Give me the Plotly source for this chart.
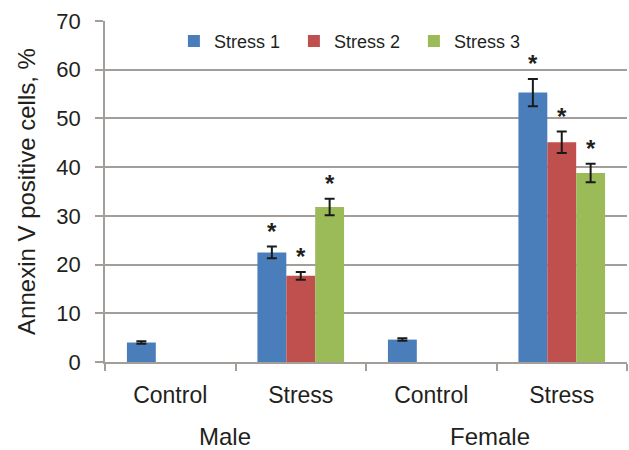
import plotly.graph_objects as go

# Groups on the category axis and the sex they belong to
categories = ["Male Control", "Male Stress", "Female Control", "Female Stress"]
category_labels = ["Control", "Stress", "Control", "Stress"]
sexes = ["Male", "Female"]
sex_positions = [0.42, 2.45]  # category-index positions of the sex labels

series_names = ["Stress 1", "Stress 2", "Stress 3"]
series_colors = ["#4A7EBB", "#C0504D", "#9BBB59"]

# Annexin V positive cells, % (mean and error)
stress1 = [4.0, 22.5, 4.6, 55.3]
stress1_err = [0.25, 1.2, 0.25, 2.8]
stress2 = [None, 17.7, None, 45.1]
stress2_err = [0, 0.8, 0, 2.2]
stress3 = [None, 31.8, None, 38.8]
stress3_err = [0, 1.7, 0, 1.9]

# Which bars carry a significance star
stress1_sig = [False, True, False, True]
stress2_sig = [False, True, False, True]
stress3_sig = [False, True, False, True]

values = [stress1, stress2, stress3]
errors = [stress1_err, stress2_err, stress3_err]
sig = [stress1_sig, stress2_sig, stress3_sig]

FONT = "Liberation Sans, Arial, sans-serif"
TEXT = "#231F20"
GRID = "#A39E9A"

fig = go.Figure()
for name, color, v, e in zip(series_names, series_colors, values, errors):
    fig.add_trace(go.Bar(
        name=name, x=categories, y=v,
        marker=dict(color=color, line=dict(width=0)),
        error_y=dict(type="data", array=e, visible=True,
                     color="#1A1A1A", thickness=2, width=5),
    ))

# Star markers above the significant bars, placed at each bar's slot
n_series = len(series_names)
bargap = 0.336
slot = (1 - bargap) / n_series
annotations = []
for s in range(n_series):
    for i, cat in enumerate(categories):
        if sig[s][i] and values[s][i] is not None:
            xpos = i - (1 - bargap) / 2 + slot * (s + 0.5)
            annotations.append(dict(
                x=xpos, y=values[s][i] + errors[s][i], xref="x", yref="y",
                text="<b>*</b>", showarrow=False, yanchor="bottom", yshift=0,
                font=dict(family=FONT, size=24, color=TEXT),
            ))

for label, pos in zip(sexes, sex_positions):
    annotations.append(dict(
        x=pos, y=0, xref="x", yref="paper", text=label, showarrow=False,
        yanchor="middle", yshift=-74, borderpad=0,
        font=dict(family=FONT, size=24, color=TEXT),
    ))

fig.update_layout(
    width=629, height=450,
    margin=dict(l=105, r=2, t=21, b=88),
    paper_bgcolor="white", plot_bgcolor="white",
    barmode="group", bargap=bargap, bargroupgap=0,
    showlegend=True,
    legend=dict(
        orientation="h", x=0.132, xanchor="left", y=0.995, yanchor="top",
        font=dict(family=FONT, size=18, color=TEXT),
        bgcolor="rgba(255,255,255,0)", entrywidth=75,
    ),
    annotations=annotations,
    font=dict(family=FONT, color=TEXT),
)

fig.update_xaxes(
    type="category", categoryorder="array", categoryarray=categories,
    tickmode="array", tickvals=categories, ticktext=category_labels,
    tickfont=dict(family=FONT, size=23, color=TEXT),
    ticks="outside", tickson="boundaries", ticklen=7, tickwidth=1.5,
    tickcolor=GRID, showline=True, linecolor=GRID, linewidth=1.5,
    showgrid=False, ticklabelstandoff=12,
)

fig.update_yaxes(
    range=[0, 70], dtick=10, tick0=0,
    tickfont=dict(family=FONT, size=22, color=TEXT),
    ticks="outside", ticklen=8, tickwidth=1.5, tickcolor=GRID,
    showline=True, linecolor=GRID, linewidth=1.5,
    showgrid=True, gridcolor=GRID, gridwidth=1.5, zeroline=False,
    ticklabelstandoff=10,
    title=dict(text="Annexin V positive cells, %",
               font=dict(family=FONT, size=24, color=TEXT), standoff=14),
)

fig.write_html("out.html")
